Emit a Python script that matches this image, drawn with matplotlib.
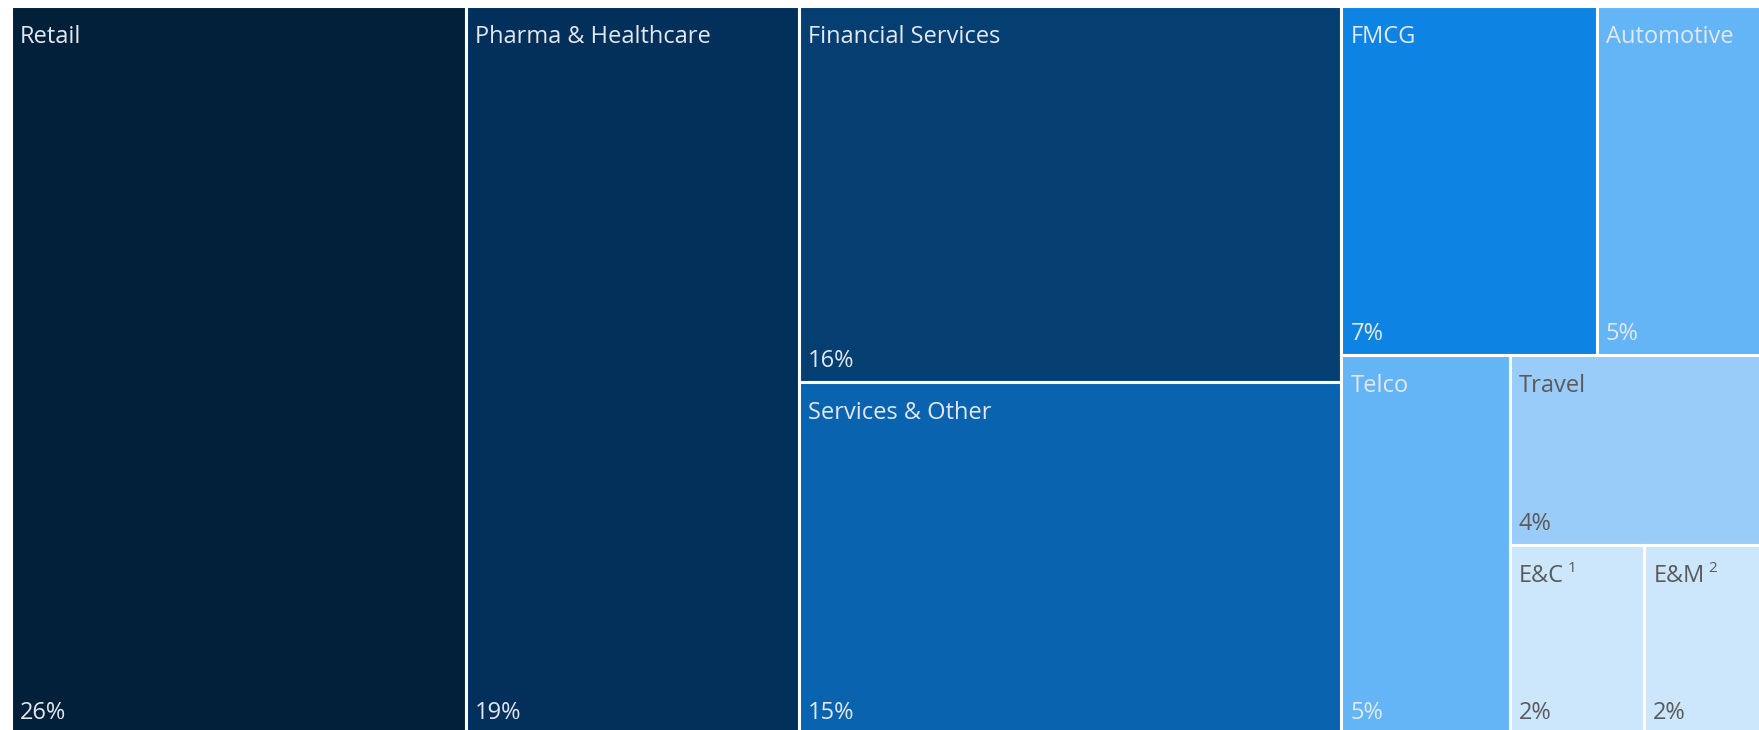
import matplotlib
matplotlib.use('Agg')
import matplotlib.pyplot as plt
from matplotlib.patches import Rectangle

plt.rcParams['font.family'] = ['Open Sans', 'DejaVu Sans']

# Data
sectors = ['Retail', 'Pharma & Healthcare', 'Financial Services', 'Services & Other',
           'FMCG', 'Automotive', 'Telco', 'Travel', 'E&C', 'E&M']
footnotes = ['', '', '', '', '', '', '', '', '1', '2']
shares = [26, 19, 16, 15, 7, 5, 5, 4, 2, 2]
pct_labels = ['26%', '19%', '16%', '15%', '7%', '5%', '5%', '4%', '2%', '2%']
fill_colors = ['#03203A', '#03305A', '#053F72', '#0A63AE', '#0D84E4',
               '#64B5F6', '#64B5F6', '#99CCF8', '#CCE6FB', '#CCE6FB']
text_colors = ['#E4E8EE'] * 7 + ['#5A5A5A'] * 3

# nesting of the treemap: 'h' = side by side, 'v' = stacked (top first)
tree = ('h', [0, 1, ('v', [2, 3]),
              ('v', [('h', [4, 5]),
                     ('h', [6, ('v', [7, ('h', [8, 9])])])])])


def total(node):
    if isinstance(node, int):
        return shares[node]
    return sum(total(c) for c in node[1])


def layout(node, x, y, w, h, out):
    # y is the top edge, growing downward in axes units
    if isinstance(node, int):
        out[node] = (x, y, w, h)
        return
    kind, kids = node
    t = total(node)
    pos = 0.0
    for k in kids:
        frac = total(k) / t
        if kind == 'h':
            layout(k, x + pos * w, y, w * frac, h, out)
        else:
            layout(k, x, y + pos * h, w, h * frac, out)
        pos += frac


rects = {}
layout(tree, 0.0, 0.0, 1.0, 1.0, rects)

fig = plt.figure(figsize=(17.59, 7.30), dpi=100)
# treemap runs a little past the right and bottom edges of the picture
ax = fig.add_axes([11 / 1759, -4 / 730, 1768 / 1759, 728 / 730])
ax.set_xlim(0, 1)
ax.set_ylim(1, 0)
ax.axis('off')

renderer = fig.canvas.get_renderer()
fs = 17
for i, name in enumerate(sectors):
    x, y, w, h = rects[i]
    ax.add_patch(Rectangle((x, y), w, h, facecolor=fill_colors[i],
                           edgecolor='white', linewidth=2.2))
    t = ax.annotate(name, xy=(x, y), xytext=(9, -37), textcoords='offset pixels',
                    ha='left', va='baseline', fontsize=fs, color=text_colors[i])
    if footnotes[i]:
        tw = t.get_window_extent(renderer).width
        ax.annotate(footnotes[i], xy=(x, y), xytext=(9 + tw + 4, -27),
                    textcoords='offset pixels', ha='left', va='baseline',
                    fontsize=11, color=text_colors[i])
    ax.annotate(pct_labels[i], xy=(x, y + h), xytext=(9, 15), textcoords='offset pixels',
                ha='left', va='baseline', fontsize=fs, color=text_colors[i])

fig.savefig('out.png', dpi=100)
